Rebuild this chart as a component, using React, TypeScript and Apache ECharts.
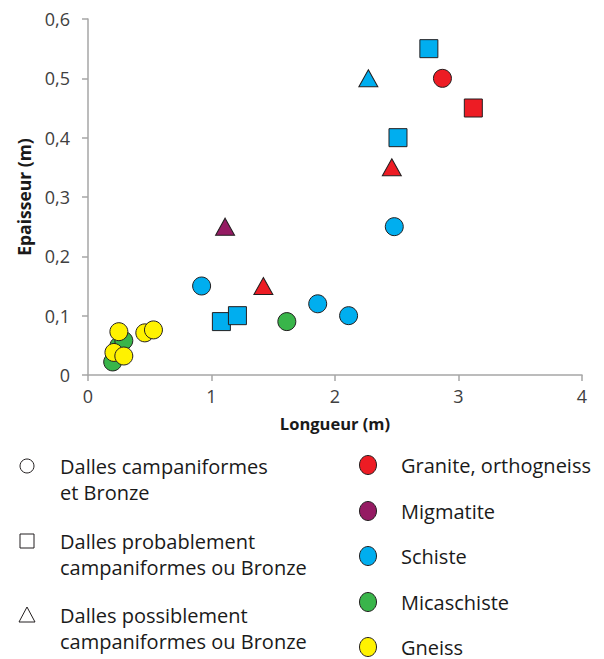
import React, { useEffect, useRef } from "react";
import * as echarts from "echarts";

// Longueur (m), Epaisseur (m)
const circleRed = [[2.87, 0.5]];
const circleBlue = [[0.92, 0.15], [1.86, 0.12], [2.11, 0.1], [2.48, 0.25]];
const circleGreen = [[1.61, 0.09], [0.2, 0.022], [0.25, 0.049], [0.29, 0.058]];
const circleYellow = [[0.25, 0.073], [0.21, 0.038], [0.29, 0.032], [0.46, 0.071], [0.53, 0.076]];
const squareBlue = [[1.08, 0.09], [1.21, 0.1], [2.51, 0.4], [2.76, 0.55]];
const squareRed = [[3.12, 0.45]];
const triangleRed = [[2.46, 0.35], [1.42, 0.15]];
const trianglePurple = [[1.11, 0.25]];
const triangleBlue = [[2.27, 0.5]];

const shapeLegend = [
  ["Dalles campaniformes", "et Bronze"],
  ["Dalles probablement", "campaniformes ou Bronze"],
  ["Dalles possiblement", "campaniformes ou Bronze"],
];
const materialLegend = ["Granite, orthogneiss", "Migmatite", "Schiste", "Micaschiste", "Gneiss"];

const COLORS: Record<string, string> = {
  red: "#ED1C24",
  purple: "#951B63",
  blue: "#00AEEF",
  green: "#39B54A",
  yellow: "#FFF200",
};
const materialColors = [COLORS.red, COLORS.purple, COLORS.blue, COLORS.green, COLORS.yellow];

const EDGE = "#231F20";
const TEXT = "#1A1A1A";
const FONT = '"Open Sans", sans-serif';

function mk(data: number[][], symbol: string, color: string, size: number | number[]) {
  return {
    type: "scatter",
    data,
    symbol,
    symbolSize: size,
    itemStyle: { color, borderColor: EDGE, borderWidth: 1, opacity: 1 },
    emphasis: { disabled: true },
  };
}

export default function App() {
  const ref = useRef<HTMLDivElement>(null);
  useEffect(() => {
    if (!ref.current) return;
    const chart = echarts.init(ref.current, undefined, { renderer: "svg" });
    const fmt = (v: number) => (v === 0 ? "0" : String(Math.round(v * 10) / 10).replace(".", ","));

    const graphics: any[] = [];
    // shape legend
    const shapeY = [466, 541, 615];
    graphics.push({
      type: "circle",
      shape: { cx: 27, cy: shapeY[0], r: 7 },
      style: { fill: "#fff", stroke: EDGE, lineWidth: 1 },
    });
    graphics.push({
      type: "rect",
      shape: { x: 20, y: shapeY[1] - 7, width: 14, height: 14 },
      style: { fill: "#fff", stroke: EDGE, lineWidth: 1 },
    });
    graphics.push({
      type: "polygon",
      shape: { points: [[27, shapeY[2] - 8], [19, shapeY[2] + 7], [35, shapeY[2] + 7]] },
      style: { fill: "#fff", stroke: EDGE, lineWidth: 1 },
    });
    shapeLegend.forEach((lines, i) => {
      lines.forEach((t, j) => {
        graphics.push({
          type: "text",
          style: {
            text: t,
            x: 60,
            y: shapeY[i] + j * 26,
            fill: TEXT,
            font: `20px ${FONT}`,
            verticalAlign: "middle",
          },
        });
      });
    });
    // material legend
    const matY = [465, 511, 556, 602, 647];
    materialLegend.forEach((t, i) => {
      graphics.push({
        type: "ellipse",
        shape: { cx: 368, cy: matY[i], rx: 8.5, ry: 9.5 },
        style: { fill: materialColors[i], stroke: EDGE, lineWidth: 1 },
      });
      graphics.push({
        type: "text",
        style: {
          text: t,
          x: 401,
          y: matY[i],
          fill: TEXT,
          font: `20px ${FONT}`,
          verticalAlign: "middle",
        },
      });
    });

    chart.setOption({
      animation: false,
      backgroundColor: "#fff",
      grid: { left: 88, right: 22, top: 19, bottom: 284, containLabel: false },
      xAxis: {
        type: "value",
        min: 0,
        max: 4,
        interval: 1,
        name: "Longueur (m)",
        nameLocation: "middle",
        nameGap: 40,
        nameTextStyle: { fontFamily: FONT, fontWeight: "bold", fontSize: 16.5, color: TEXT },
        axisLine: { show: true, lineStyle: { color: "#A6A6A6", width: 1.5 } },
        axisTick: { show: true, length: 6, lineStyle: { color: "#A6A6A6", width: 1.5 } },
        axisLabel: { fontFamily: FONT, fontSize: 18, color: "#404040", margin: 12, formatter: fmt },
        splitLine: { show: false },
      },
      yAxis: {
        type: "value",
        min: 0,
        max: 0.6,
        interval: 0.1,
        name: "Epaisseur (m)",
        nameLocation: "middle",
        nameGap: 55,
        nameTextStyle: { fontFamily: FONT, fontWeight: "bold", fontSize: 17.5, color: TEXT },
        axisLine: { show: true, lineStyle: { color: "#A6A6A6", width: 1.5 } },
        axisTick: { show: true, length: 6, lineStyle: { color: "#A6A6A6", width: 1.5 } },
        axisLabel: { fontFamily: FONT, fontSize: 18, color: "#404040", margin: 18, formatter: fmt },
        splitLine: { show: false },
      },
      graphic: graphics,
      series: [
        mk(circleGreen, "circle", COLORS.green, 18),
        mk(circleYellow, "circle", COLORS.yellow, 18),
        mk(circleBlue, "circle", COLORS.blue, 18),
        mk(circleRed, "circle", COLORS.red, 18),
        mk(squareBlue, "rect", COLORS.blue, 18),
        mk(squareRed, "rect", COLORS.red, 18),
        mk(triangleRed, "triangle", COLORS.red, [19, 17]),
        mk(trianglePurple, "triangle", COLORS.purple, [19, 17]),
        mk(triangleBlue, "triangle", COLORS.blue, [19, 17]),
      ],
    });
    return () => chart.dispose();
  }, []);
  return (
    <div
      ref={ref}
      style={{ position: "absolute", left: 0, top: 0, width: 604, height: 659 }}
    />
  );
}
